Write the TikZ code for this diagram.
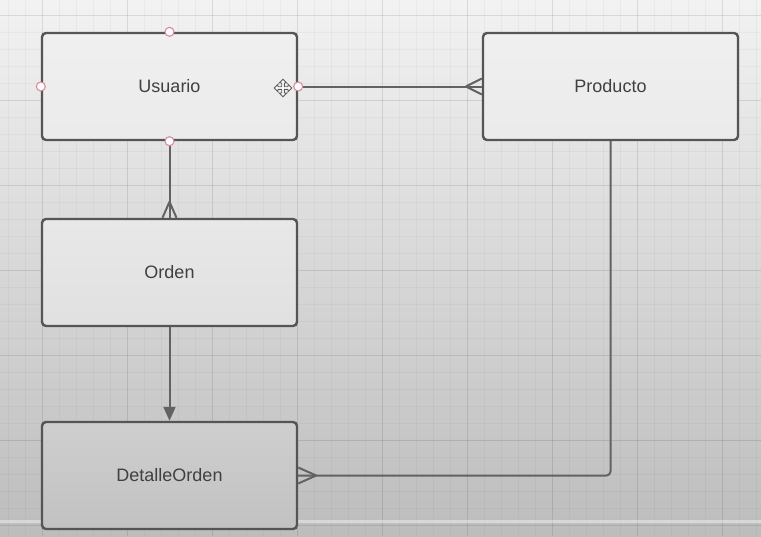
\documentclass[tikz,border=0pt]{standalone}
\usepackage{fontspec}
\setmainfont{Liberation Sans}
\usetikzlibrary{arrows.meta}
\definecolor{boxline}{HTML}{555555}
\definecolor{conn}{HTML}{626262}
\definecolor{txt}{HTML}{404040}
\definecolor{pinkring}{HTML}{D98A9C}
\begin{document}
\begin{tikzpicture}[x=1pt,y=-1pt,
  entity/.style={draw=boxline, line width=2.4pt, rounded corners=4pt,
    minimum width=255pt, minimum height=107pt, inner sep=0pt,
    font=\fontsize{18}{20}\selectfont, text=txt},
  link/.style={draw=conn, line width=2pt},
  handle/.style={circle, draw=pinkring, fill=white, line width=1.1pt, minimum size=9pt, inner sep=0pt}]
% background
\shade[top color=black!5, middle color=black!11, bottom color=black!26] (0,0) rectangle (761,536);
\useasboundingbox (0,0) rectangle (761,536);
% minor grid
\foreach \x in {8,25,...,761} \draw[black, opacity=0.03, line width=0.8pt] (\x,0) -- (\x,536);
\foreach \y in {15,32,...,536} \draw[black, opacity=0.03, line width=0.8pt] (0,\y) -- (761,\y);
% major grid
\foreach \x in {42,127,...,761} \draw[black, opacity=0.07, line width=1pt] (\x,0) -- (\x,536);
\foreach \y in {15,100,...,536} \draw[black, opacity=0.07, line width=1pt] (0,\y) -- (761,\y);
\draw[white, opacity=0.4, line width=3pt] (0,521) -- (761,521);
% entities
\node[entity, top color=black!6, bottom color=black!8] (usuario) at (169.5,86.5) {Usuario};
\node[entity, top color=black!6, bottom color=black!8] (producto) at (610.5,86.5) {Producto};
\node[entity, top color=black!9, bottom color=black!12] (orden) at (169.5,272.5) {Orden};
\node[entity, top color=black!19, bottom color=black!24] (detalle) at (169.5,475.5) {DetalleOrden};
% Usuario -- Producto (many at Producto)
\draw[link] (usuario.east) -- (producto.west);
\coordinate (pfork) at ([xshift=-16pt]producto.west);
\draw[link] (pfork) -- ([yshift=-8pt]producto.west);
\draw[link] (pfork) -- ([yshift=8pt]producto.west);
% Usuario -- Orden (many at Orden)
\draw[link] (usuario.south) -- (orden.north);
\coordinate (ofork) at ([yshift=16pt]orden.north);
\draw[link] (ofork) -- ([xshift=-7pt]orden.north);
\draw[link] (ofork) -- ([xshift=7pt]orden.north);
% Orden -> DetalleOrden
\draw[link, -{Triangle[width=12pt,length=14pt]}] (orden.south) -- (detalle.north);
% Producto -- DetalleOrden (many at DetalleOrden)
\coordinate (dend) at (detalle.east);
\draw[link, rounded corners=4pt] (producto.south) |- (dend);
\coordinate (dfork) at ([xshift=18pt]dend);
\draw[link] (dfork) -- ([yshift=-8pt]dend);
\draw[link] (dfork) -- ([yshift=8pt]dend);
% selection handles on Usuario
\node[handle] (h1) at (usuario.north) {};
\node[handle] (h2) at (usuario.south) {};
\node[handle] (h3) at (usuario.west) {};
\node[handle] (h4) at (usuario.east) {};
% move cursor
\draw[fill=white, draw=black!65, line width=0.9pt, line join=miter, shift={(283,88)}]
  (1.3,-1.3) -- (5,-1.3) -- (5,-3.8) -- (8.8,0) -- (5,3.8) -- (5,1.3) -- (1.3,1.3)
  -- (1.3,5) -- (3.8,5) -- (0,8.8) -- (-3.8,5) -- (-1.3,5) -- (-1.3,1.3)
  -- (-5,1.3) -- (-5,3.8) -- (-8.8,0) -- (-5,-3.8) -- (-5,-1.3) -- (-1.3,-1.3)
  -- (-1.3,-5) -- (-3.8,-5) -- (0,-8.8) -- (3.8,-5) -- (1.3,-5) -- cycle;
\end{tikzpicture}
\end{document}
